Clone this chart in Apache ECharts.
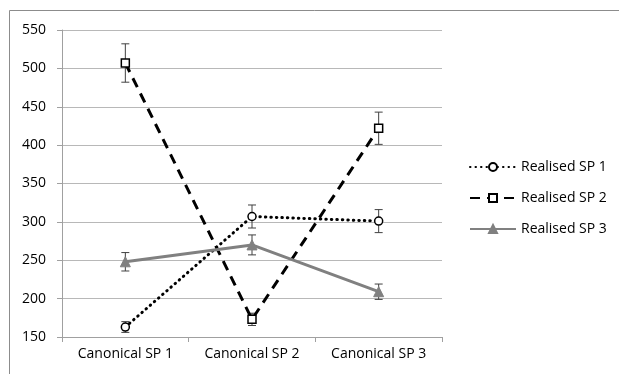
<!DOCTYPE html>
<html>
<head>
<meta charset="utf-8">
<script src="https://cdn.jsdelivr.net/npm/echarts@6/dist/echarts.min.js"></script>
<style>
  html, body { margin: 0; padding: 0; background: #fff; }
  #main { width: 619px; height: 374px; }
</style>
</head>
<body>
<div id="main"></div>
<script>
// categories and values
var categories = ['Canonical SP 1', 'Canonical SP 2', 'Canonical SP 3'];
var seriesNames = ['Realised SP 1', 'Realised SP 2', 'Realised SP 3'];
var sp1 = [163, 307, 301];
var sp2 = [507, 173, 422];
var sp3 = [248, 270, 209];
// error bar half widths
var sp1Err = [7, 15, 15];
var sp2Err = [25, 8, 21];
var sp3Err = [12, 13, 10];

function errData(vals, errs) {
  return vals.map(function (v, i) { return [i, v - errs[i], v + errs[i]]; });
}

function errSeries(vals, errs) {
  return {
    type: 'custom',
    silent: true,
    z: 1,
    data: errData(vals, errs),
    encode: { x: 0, y: [1, 2] },
    renderItem: function (params, api) {
      var lo = api.coord([api.value(0), api.value(1)]);
      var hi = api.coord([api.value(0), api.value(2)]);
      var hw = 4;
      var st = { stroke: '#404040', lineWidth: 1 };
      return {
        type: 'group',
        children: [
          { type: 'line', shape: { x1: lo[0], y1: lo[1], x2: hi[0], y2: hi[1] }, style: st },
          { type: 'line', shape: { x1: lo[0] - hw, y1: lo[1], x2: lo[0] + hw, y2: lo[1] }, style: st },
          { type: 'line', shape: { x1: hi[0] - hw, y1: hi[1], x2: hi[0] + hw, y2: hi[1] }, style: st }
        ]
      };
    }
  };
}

var font = 'Open Sans';
var chart = echarts.init(document.getElementById('main'));
chart.setOption({
  animation: false,
  backgroundColor: '#fff',
  graphic: [{
    type: 'rect',
    shape: { x: 9.5, y: 10.5, width: 640, height: 400 },
    style: { fill: 'none', stroke: '#8c8c8c', lineWidth: 1 },
    silent: true
  }],
  grid: { left: 62, right: 177, top: 30, bottom: 37 },
  legend: {
    orient: 'vertical',
    left: 464,
    top: 155,
    itemWidth: 46,
    itemHeight: 10,
    itemGap: 17,
    data: seriesNames,
    textStyle: { fontFamily: font, fontSize: 14, color: '#000' }
  },
  xAxis: {
    type: 'category',
    data: categories,
    boundaryGap: true,
    axisLine: { lineStyle: { color: '#a0a0a0', width: 1 } },
    axisTick: { show: true, length: 5, lineStyle: { color: '#a0a0a0' } },
    axisLabel: { fontFamily: font, fontSize: 14, color: '#000', margin: 10 }
  },
  yAxis: {
    type: 'value',
    min: 150,
    max: 550,
    interval: 50,
    axisLine: { show: true, lineStyle: { color: '#a0a0a0', width: 1 } },
    axisTick: { show: true, length: 5, lineStyle: { color: '#a0a0a0' } },
    splitLine: { lineStyle: { color: '#b8b8b8', width: 1 } },
    axisLabel: { fontFamily: font, fontSize: 14, color: '#000', margin: 16 }
  },
  series: [
    errSeries(sp1, sp1Err),
    errSeries(sp2, sp2Err),
    errSeries(sp3, sp3Err),
    {
      name: seriesNames[0],
      type: 'line',
      z: 3,
      data: sp1,
      symbol: 'circle',
      symbolSize: 8,
      itemStyle: { color: '#fff', borderColor: '#000', borderWidth: 1.5 },
      lineStyle: { color: '#000', width: 3, type: [0.5, 5], cap: 'round' }
    },
    {
      name: seriesNames[1],
      type: 'line',
      z: 3,
      data: sp2,
      symbol: 'rect',
      symbolSize: 8,
      itemStyle: { color: '#fff', borderColor: '#000', borderWidth: 1.5 },
      lineStyle: { color: '#000', width: 3, type: [10, 7] }
    },
    {
      name: seriesNames[2],
      type: 'line',
      z: 3,
      data: sp3,
      symbol: 'triangle',
      symbolSize: 10,
      itemStyle: { color: '#808080', borderColor: '#808080', borderWidth: 1 },
      lineStyle: { color: '#808080', width: 3 }
    }
  ]
});
</script>
</body>
</html>
